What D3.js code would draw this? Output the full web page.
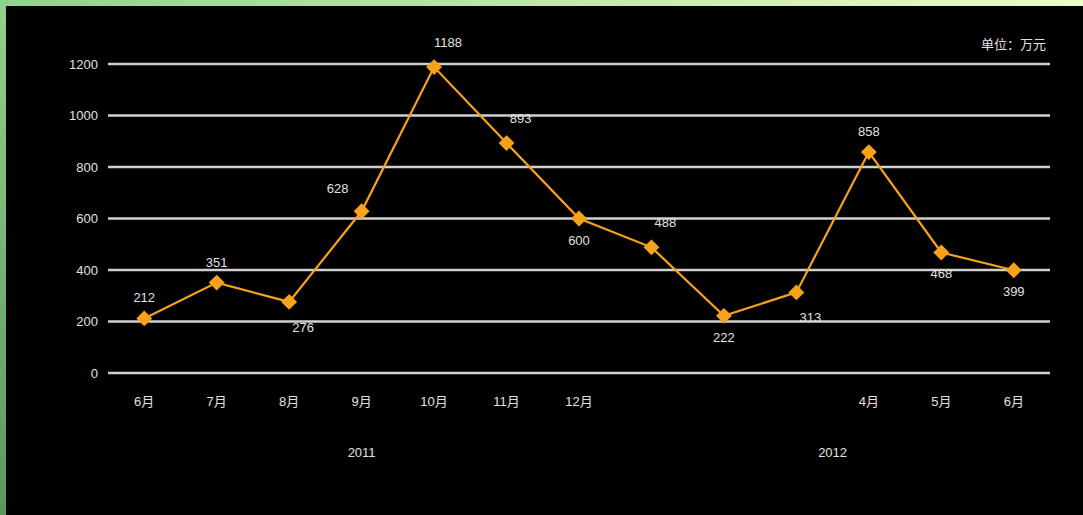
<!DOCTYPE html>
<html>
<head>
<meta charset="utf-8">
<script src="https://cdn.jsdelivr.net/npm/d3@7"></script>
<style>
  html, body { margin: 0; padding: 0; background: #000; }
  svg { display: block; }
</style>
</head>
<body>
<div id="chart"></div>
<script>
// chart values

var categories = ["6月", "7月", "8月", "9月", "10月", "11月", "12月", "", "", "", "4月", "5月", "6月"];
var values = [212, 351, 276, 628, 1188, 893, 600, 488, 222, 313, 858, 468, 399];
var years = ["2011", "2012"];
var yearSpan = [7, 6];
var yTicks = [0, 200, 400, 600, 800, 1000, 1200];
var unitLabel = "单位：万元";

// where each value label sits relative to its point
var labelPlace = ["t", "t", "br", "tl", "tr", "tr", "b", "tr", "b", "br", "t", "b", "b"];

var W = 1083, H = 515;
var plotLeft = 108, plotRight = 1050, plotTop = 64, plotBottom = 373;
var font = "'Liberation Sans', 'Noto Sans CJK SC', sans-serif";
var textColor = "#e0e0e0";
var lineColor = "#f7a21b";

var svg = d3.select("#chart").append("svg")
    .attr("width", W)
    .attr("height", H);

// frame gradients

var defs = svg.append("defs");

var gTop = defs.append("linearGradient")
    .attr("id", "gTop")
    .attr("x1", "0%").attr("y1", "0%")
    .attr("x2", "100%").attr("y2", "0%");
gTop.append("stop").attr("offset", "0%").attr("stop-color", "#8fd38c");
gTop.append("stop").attr("offset", "100%").attr("stop-color", "#eefcc6");

var gLeft = defs.append("linearGradient")
    .attr("id", "gLeft")
    .attr("x1", "0%").attr("y1", "0%")
    .attr("x2", "0%").attr("y2", "100%");
gLeft.append("stop").attr("offset", "0%").attr("stop-color", "#8fd38c");
gLeft.append("stop").attr("offset", "100%").attr("stop-color", "#57995a");

svg.append("rect").attr("x", 0).attr("y", 0).attr("width", W).attr("height", H).style("fill", "#000");
svg.append("rect").attr("x", 0).attr("y", 0).attr("width", W).attr("height", 6).style("fill", "url(#gTop)");
svg.append("rect").attr("x", 0).attr("y", 0).attr("width", 6).attr("height", H).style("fill", "url(#gLeft)");

// scales

var x = d3.scaleBand()
    .domain(d3.range(values.length))
    .range([plotLeft, plotRight])
    .padding(0);

var y = d3.scaleLinear()
    .domain([0, 1200])
    .range([plotBottom, plotTop]);

var cx = function (i) { return x(i) + x.bandwidth() / 2; };

// grid lines

svg.append("g")
    .selectAll("line")
    .data(yTicks)
    .enter().append("line")
    .attr("x1", plotLeft)
    .attr("x2", plotRight)
    .attr("y1", function (d) { return y(d); })
    .attr("y2", function (d) { return y(d); })
    .style("stroke", "#d0d0d0")
    .style("stroke-width", 2.5);

// y axis labels

var yAxis = svg.append("g")
    .attr("transform", "translate(" + (plotLeft - 10) + ",0)")
    .call(d3.axisLeft(y).tickValues(yTicks).tickSize(0).tickPadding(0).tickFormat(d3.format("d")));
yAxis.select(".domain").remove();
yAxis.selectAll("text")
    .style("fill", textColor)
    .style("font-family", font)
    .style("font-size", "13px");

// category labels

var xAxis = svg.append("g")
    .attr("transform", "translate(0," + plotBottom + ")")
    .call(d3.axisBottom(x).tickFormat(function (i) { return categories[i]; }).tickSize(0).tickPadding(24));
xAxis.select(".domain").remove();
xAxis.selectAll("text")
    .style("fill", textColor)
    .style("font-family", font)
    .style("font-size", "13px");

// year labels

var start = 0;
years.forEach(function (yr, k) {
    var first = start, last = start + yearSpan[k] - 1;
    svg.append("text")
        .attr("x", (cx(first) + cx(last)) / 2)
        .attr("y", 457)
        .attr("text-anchor", "middle")
        .text(yr)
        .style("fill", textColor)
        .style("font-family", font)
        .style("font-size", "13px");
    start += yearSpan[k];
});

// unit label

svg.append("text")
    .attr("x", 1046)
    .attr("y", 49)
    .attr("text-anchor", "end")
    .text(unitLabel)
    .style("fill", textColor)
    .style("font-family", font)
    .style("font-size", "13px");

// line

var line = d3.line()
    .x(function (d, i) { return cx(i); })
    .y(function (d) { return y(d); });

svg.append("path")
    .datum(values)
    .attr("d", line)
    .style("fill", "none")
    .style("stroke", lineColor)
    .style("stroke-width", 2.2);

// diamond markers

svg.append("g")
    .selectAll("path")
    .data(values)
    .enter().append("path")
    .attr("transform", function (d, i) { return "translate(" + cx(i) + "," + y(d) + ")"; })
    .attr("d", d3.symbol().type(d3.symbolDiamond2).size(160))
    .style("fill", lineColor);

// value labels

var offsets = {
    t:  [0, -16],
    b:  [0, 26],
    tr: [14, -20],
    tl: [-24, -18],
    br: [14, 30]
};

svg.append("g")
    .selectAll("text")
    .data(values)
    .enter().append("text")
    .attr("x", function (d, i) { return cx(i) + offsets[labelPlace[i]][0]; })
    .attr("y", function (d, i) { return y(d) + offsets[labelPlace[i]][1]; })
    .attr("text-anchor", "middle")
    .text(function (d) { return d; })
    .style("fill", textColor)
    .style("font-family", font)
    .style("font-size", "13px");
</script>
</body>
</html>
